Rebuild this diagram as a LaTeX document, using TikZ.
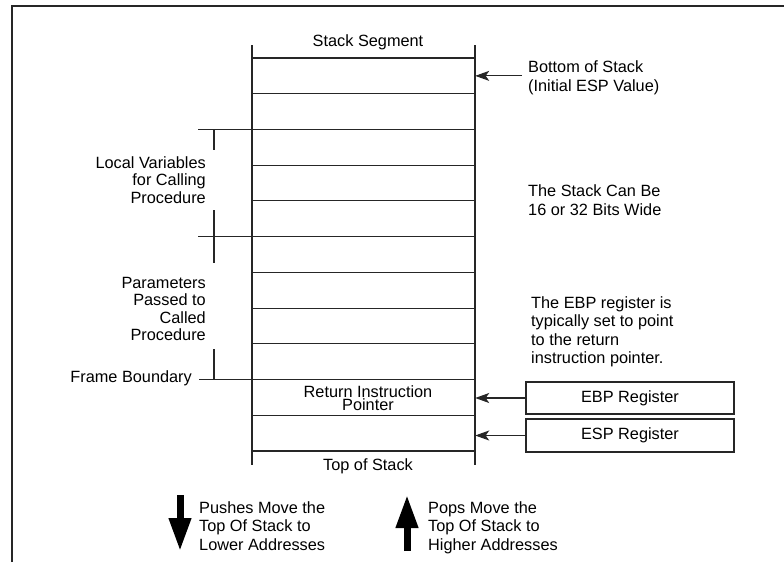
\documentclass[tikz,border=0pt]{standalone}
\usepackage{fontspec}
\setmainfont{Liberation Sans}
\usetikzlibrary{arrows.meta}
\begin{document}
\begin{tikzpicture}[x=1pt,y=-1pt,
  lbl/.style={inner sep=0pt, font=\fontsize{16.3}{18.5}\selectfont},
  lbltight/.style={inner sep=0pt, font=\fontsize{16.3}{17.5}\selectfont},
  ln/.style={line width=1.1pt, draw=black!85},
  vln/.style={line width=1.4pt, draw=black!85},
  cell/.style={minimum width=223pt, minimum height=35.7pt, inner sep=0pt},
  ptr/.style={line width=1.1pt, draw=black!85, -{Stealth[length=14pt,width=10pt,inset=3.5pt]}},
  reg/.style={draw=black!85, line width=1.4pt, minimum width=208pt, inner sep=0pt, font=\fontsize{16.3}{18}\selectfont},
  big/.style={line width=7pt, -{Triangle[length=33pt,width=21pt]}}
]
\useasboundingbox (0,0) rectangle (784,562);
% outer frame (top and left edges only)
\draw[line width=2pt, draw=black!85] (12,562) -- (12,6) -- (784,6);

% stack columns
\draw[vln] (252,45) -- (252,465);
\draw[vln] (475,45) -- (475,465);
\foreach \i in {0,1,3,4,6,7,8,10,11} {
  \draw[ln] (252,{58+35.73*\i}) -- (475,{58+35.73*\i});
}
% lines that extend to the left brackets
\draw[ln] (198,{58+35.73*2}) -- (475,{58+35.73*2});
\draw[ln] (198,{58+35.73*5}) -- (475,{58+35.73*5});
\draw[ln] (199,{58+35.73*9}) -- (475,{58+35.73*9});
% bracket ticks
\draw[ln] (214,{58+35.73*2}) -- (214,150);
\draw[ln] (214,210) -- (214,263);
\draw[ln] (214,349) -- (214,{58+35.73*9});

% cells used as arrow targets
\node[cell] (cell0) at (363.5,{58+35.73*0.5}) {};
\node[cell] (cell9) at (363.5,{58+35.73*9.5}) {};
\node[cell] (cell10) at (363.5,{58+35.73*10.5}) {};

% texts in the stack
\node[lbl, anchor=base] (seg) at (368,46) {Stack Segment};
\node[inner sep=0pt, font=\fontsize{16.3}{13}\selectfont, align=center, anchor=base] (rip) at (368,410) {Return Instruction\\Pointer};
\node[lbl, anchor=base] (tos) at (368,470) {Top of Stack};

% left labels
\node[lbltight, align=right, anchor=base east] (lv) at (206,203) {Local Variables\\for Calling\\Procedure};
\node[lbltight, align=right, anchor=base east] (pp) at (206,340.5) {Parameters\\Passed to\\Called\\Procedure};
\node[lbl, anchor=base east] (fb) at (192,382) {Frame Boundary};

% right labels
\node[lbl, align=left, anchor=base west] (bos) at (528,91) {Bottom of Stack\\(Initial ESP Value)};
\node[lbl, align=left, anchor=base west] (wide) at (528,215) {The Stack Can Be\\16 or 32 Bits Wide};
\node[lbl, align=left, anchor=base west] (ebpnote) at (531,363.5) {The EBP register is\\typically set to point\\to the return\\instruction pointer.};

% registers
\node[reg, minimum height=32pt] (ebp) at (630,398) {EBP Register};
\node[reg, minimum height=33pt] (esp) at (630,435.5) {ESP Register};

% pointers
\coordinate (bostail) at (522,{58+35.73*0.5});
\draw[ptr] (bostail) -- (cell0.east);
\draw[ptr] (ebp.west) -- (ebp.west -| cell9.east);
\draw[ptr] (esp.west) -- (esp.west -| cell10.east);

% push / pop arrows
\coordinate (pushtop) at (180,495);
\coordinate (pushtip) at (180,551);
\coordinate (popbot) at (407,551);
\coordinate (poptip) at (407,495);
\draw[big] (pushtop) -- (pushtip);
\draw[big] (popbot) -- (poptip);
\node[lbl, align=left, anchor=base west] (push) at (199,550) {Pushes Move the\\Top Of Stack to\\Lower Addresses};
\node[lbl, align=left, anchor=base west] (pop) at (428,550) {Pops Move the\\Top Of Stack to\\Higher Addresses};
\end{tikzpicture}
\end{document}
